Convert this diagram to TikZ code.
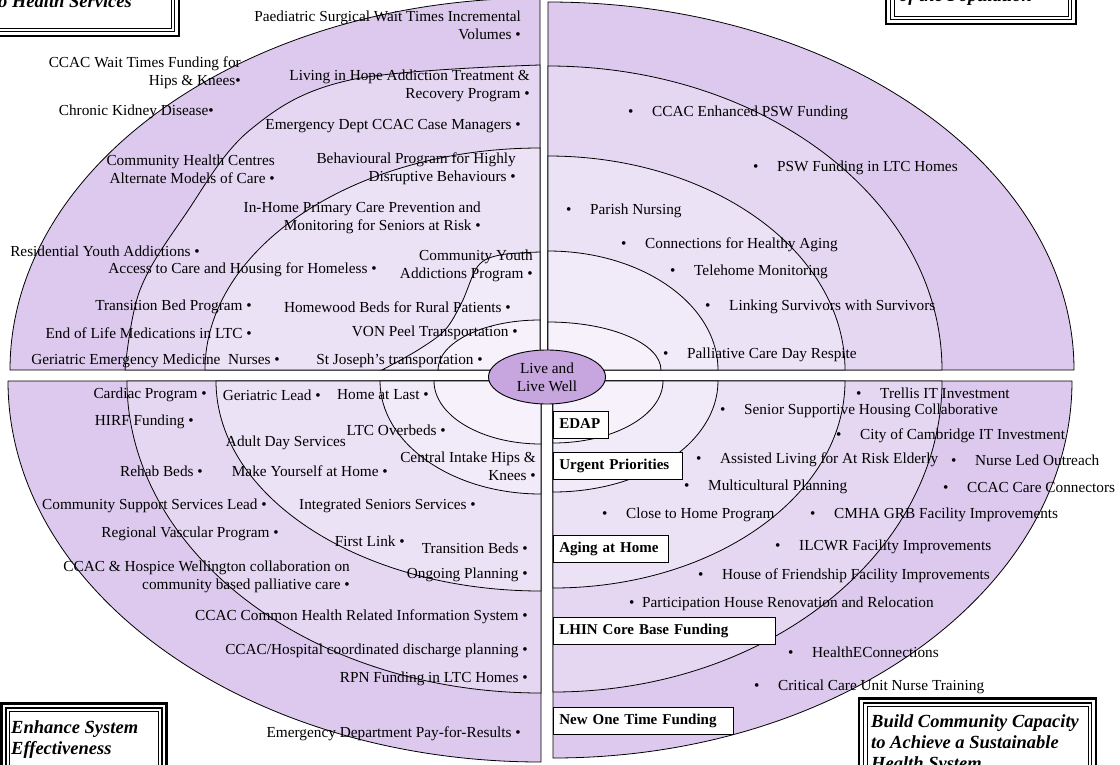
\documentclass[tikz,border=0pt]{standalone}
\usetikzlibrary{shapes.geometric}
\usepackage{fontspec}
\setmainfont{Liberation Serif}
\newcommand\lab{\fontsize{15.3}{18}\selectfont}
\newcommand\tagf{\fontsize{15}{18}\selectfont\bfseries}
\newcommand\cornf{\fontsize{18.5}{21}\selectfont\bfseries\itshape}
\definecolor{ringA}{RGB}{220,201,237}
\definecolor{ringB}{RGB}{229,215,242}
\definecolor{ringC}{RGB}{236,226,246}
\definecolor{ringD}{RGB}{241,234,249}
\definecolor{ringE}{RGB}{246,241,251}
\definecolor{hub}{RGB}{199,165,223}
\tikzset{
  ring/.style={draw=black,line width=0.8pt},
  lbl/.style={font=\lab,inner sep=0pt},
  lblR/.style={lbl,anchor=east,align=right},
  lblL/.style={lbl,anchor=west},
  tagbox/.style={draw=black,fill=white,line width=0.7pt,font=\tagf,anchor=north west,inner xsep=6pt,inner ysep=0pt,minimum height=27pt,text height=11pt,text depth=3pt,align=left},
  corntext/.style={font=\cornf,inner sep=0pt,align=left},
  frameA/.style={draw=black,line width=2.6pt},
  frameB/.style={draw=black,line width=1.5pt},
  frameC/.style={draw=black,line width=0.6pt}
}
\newcommand\bul[1]{\makebox[24pt][l]{\textbullet}#1}
% quarter ring: cx, cy, sx, sy, a, b, k, colour
\newcommand\qring[8]{\filldraw[fill=#8,ring] (#1,#2) -- ({#1+(#3)*(#5)},#2)
  .. controls ({#1+(#3)*(#5)},{#2+(#4)*(#7)*(#6)}) and ({#1+(#3)*(#7)*(#5)},{#2+(#4)*(#6)}) .. (#1,{#2+(#4)*(#6)}) -- cycle;}
\begin{document}
\begin{tikzpicture}[x=1pt,y=-1pt]
\useasboundingbox (0,0) rectangle (1120,764);
\clip (0,0) rectangle (1120,764);
% upper left quadrant
\qring{540}{370}{-1}{-1}{530}{372}{0.5523}{ringA}
\filldraw[fill=ringB,ring] (540,370) -- plot[smooth,tension=0.6] coordinates {(125,370) (140,290) (185,215) (250,130) (350,80) (540,65)} -- cycle;
\qring{540}{370}{-1}{-1}{335}{222}{0.5523}{ringC}
\filldraw[fill=ringD,ring] (540,370) -- plot[smooth,tension=0.55] coordinates {(382,370) (418,350) (445,330) (462,302) (478,266) (500,255) (540,252)} -- cycle;
\qring{540}{370}{-1}{-1}{102}{50}{0.5523}{ringE}
% upper right quadrant
\qring{548}{370}{1}{-1}{526}{368}{0.5523}{ringA}
\qring{548}{370}{1}{-1}{394}{304}{0.5523}{ringB}
\qring{548}{370}{1}{-1}{297}{214}{0.5523}{ringC}
\qring{548}{370}{1}{-1}{170}{119}{0.5523}{ringD}
\qring{548}{370}{1}{-1}{113}{48}{0.5523}{ringE}
% lower left quadrant
\qring{541}{381}{-1}{1}{533}{381}{0.5523}{ringA}
\qring{541}{381}{-1}{1}{414}{312}{0.5523}{ringB}
\qring{541}{381}{-1}{1}{325}{210}{0.5523}{ringC}
\qring{541}{381}{-1}{1}{161}{113}{0.5523}{ringD}
\qring{541}{381}{-1}{1}{107}{63}{0.5523}{ringE}
% lower right quadrant
\qring{553}{381}{1}{1}{519}{377}{0.5523}{ringA}
\qring{553}{381}{1}{1}{389}{311}{0.5523}{ringB}
\qring{553}{381}{1}{1}{292}{207}{0.5523}{ringC}
\qring{553}{381}{1}{1}{165}{111}{0.5523}{ringD}
\qring{553}{381}{1}{1}{110}{62}{0.5523}{ringE}
% hub
\node[draw=black,line width=0.9pt,fill=hub,ellipse,minimum width=117pt,minimum height=54pt,inner sep=0pt,font=\lab,align=center] (hub) at (547,377) {Live and\\Live Well};
% corner boxes
\draw[frameA] (-10,-10) rectangle (179,36);
\draw[frameB] (-10,-10) rectangle (174.5,31.5);
\draw[frameC] (-10,-10) rectangle (171,28);
\node[corntext,anchor=base west] (cTL) at (-2,7) {o Health Services};
\draw[frameA] (886,-10) rectangle (1076,24);
\draw[frameB] (890.5,-10) rectangle (1071.5,19.5);
\draw[frameC] (894,-10) rectangle (1068,16);
\node[corntext,anchor=base west] (cTR) at (899,1) {of the Population};
\draw[frameA] (1.5,703.5) rectangle (166.5,790);
\draw[frameB] (6,708) rectangle (162,790);
\draw[frameC] (9.5,711.5) rectangle (158.5,790);
\node[corntext,anchor=north west] (cBL) at (11,720) {Enhance System\\Effectiveness};
\draw[frameA] (859,698.5) rectangle (1096,790);
\draw[frameB] (863.5,703) rectangle (1091.5,790);
\draw[frameC] (867,706.5) rectangle (1088,790);
\node[corntext,anchor=north west] (cBR) at (871,714) {Build Community Capacity\\to Achieve a Sustainable\\Health System};
% lower-right tag boxes
\node[tagbox,text width=43pt] (t1) at (553,411) {EDAP};
\node[tagbox,text width=117pt] (t2) at (553,452) {Urgent Priorities};
\node[tagbox,text width=103pt] (t3) at (553,535) {Aging at Home};
\node[tagbox,text width=210pt] (t4) at (553,617) {LHIN Core Base Funding};
\node[tagbox,text width=168pt] (t5) at (553,707) {New One Time Funding};
% upper-left labels
\node[lblR] (ul1) at (521,25) {Paediatric Surgical Wait Times Incremental\\Volumes \textbullet};
\node[lblR] (ul2) at (241,73) {CCAC Wait Times Funding for\\Hips \& Knees\textbullet};
\node[lblR] (ul3) at (214,112) {Chronic Kidney Disease\textbullet};
\node[lblR] (ul4) at (530,86) {Living in Hope Addiction Treatment \&\\Recovery Program \textbullet};
\node[lblR] (ul5) at (521,126) {Emergency Dept CCAC Case Managers \textbullet};
\node[lblR] (ul6) at (275,169) {Community Health Centres\\Alternate Models of Care \textbullet};
\node[lblR] (ul7) at (516,169) {Behavioural Program for Highly\\Disruptive Behaviours \textbullet};
\node[lblR] (ul8) at (481,218) {In-Home Primary Care Prevention and\\Monitoring for Seniors at Risk \textbullet};
\node[lblR] (ul9) at (200,251) {Residential Youth Addictions \textbullet};
\node[lblR] (ul10) at (377,270) {Access to Care and Housing for Homeless \textbullet};
\node[lblR] (ul11) at (533,266) {Community Youth\\Addictions Program \textbullet};
\node[lblR] (ul12) at (252,307) {Transition Bed Program \textbullet};
\node[lblR] (ul13) at (511,307) {Homewood Beds for Rural Patients \textbullet};
\node[lblR] (ul14) at (252,333) {End of Life Medications in LTC \textbullet};
\node[lblR] (ul15) at (518,333) {VON Peel Transportation \textbullet};
\node[lblR] (ul16) at (280,361) {Geriatric Emergency Medicine\ \ Nurses \textbullet};
\node[lblR] (ul17) at (483,361) {St Joseph’s transportation \textbullet};
% upper-right labels
\node[lblL] (ur1) at (628,113) {\bul{CCAC Enhanced PSW Funding}};
\node[lblL] (ur2) at (753,168) {\bul{PSW Funding in LTC Homes}};
\node[lblL] (ur3) at (566,211) {\bul{Parish Nursing}};
\node[lblL] (ur4) at (621,245) {\bul{Connections for Healthy Aging}};
\node[lblL] (ur5) at (670,272) {\bul{Telehome Monitoring}};
\node[lblL] (ur6) at (705,307) {\bul{Linking Survivors with Survivors}};
\node[lblL] (ur7) at (663,355) {\bul{Palliative Care Day Respite}};
% lower-left labels
\node[lblR] (ll1) at (207,395) {Cardiac Program \textbullet};
\node[lblR] (ll2) at (321,395) {Geriatric Lead \textbullet};
\node[lblR] (ll3) at (429,395) {Home at Last \textbullet};
\node[lblR] (ll4) at (194,422) {HIRF Funding \textbullet};
\node[lblR] (ll5) at (346,443) {Adult Day Services};
\node[lblR] (ll6) at (446,430) {LTC Overbeds \textbullet};
\node[lblR] (ll7) at (203,471) {Rehab Beds \textbullet};
\node[lblR] (ll8) at (388,471) {Make Yourself at Home \textbullet};
\node[lblR] (ll9) at (536,466) {Central Intake Hips \&\\Knees \textbullet};
\node[lblR] (ll10) at (267,506) {Community Support Services Lead \textbullet};
\node[lblR] (ll11) at (476,506) {Integrated Seniors Services \textbullet};
\node[lblR] (ll12) at (279,534) {Regional Vascular Program \textbullet};
\node[lblR] (ll13) at (405,541) {First Link \textbullet};
\node[lblR] (ll14) at (528,548) {Transition Beds \textbullet};
\node[lblR] (ll15) at (350,577) {CCAC \& Hospice Wellington collaboration on\\community based palliative care \textbullet};
\node[lblR] (ll16) at (528,575) {Ongoing Planning \textbullet};
\node[lblR] (ll17) at (528,617) {CCAC Common Health Related Information System \textbullet};
\node[lblR] (ll18) at (528,651) {CCAC/Hospital coordinated discharge planning \textbullet};
\node[lblR] (ll19) at (528,679) {RPN Funding in LTC Homes \textbullet};
\node[lblR] (ll20) at (521,734) {Emergency Department Pay-for-Results \textbullet};
% lower-right labels
\node[lblL] (lr1) at (856,393) {\bul{Trellis IT Investment}};
\node[lblL] (lr2) at (720,411) {\bul{Senior Supportive Housing Collaborative}};
\node[lblL] (lr3) at (836,436) {\bul{City of Cambridge IT Investment}};
\node[lblL] (lr4) at (696,460) {\bul{Assisted Living for At Risk Elderly}};
\node[lblL] (lr5) at (951,460) {\bul{Nurse Led Outreach}};
\node[lblL] (lr6) at (684,487) {\bul{Multicultural Planning}};
\node[lblL] (lr7) at (943,488) {\bul{CCAC Care Connectors}};
\node[lblL] (lr8) at (602,515) {\bul{Close to Home Program}};
\node[lblL] (lr9) at (810,515) {\bul{CMHA GRB Facility Improvements}};
\node[lblL] (lr10) at (775,547) {\bul{ILCWR Facility Improvements}};
\node[lblL] (lr11) at (698,576) {\bul{House of Friendship Facility Improvements}};
\node[lblL] (lr12) at (629,604) {\makebox[13pt][l]{\textbullet}Participation House Renovation and Relocation};
\node[lblL] (lr13) at (788,652) {\bul{HealthEConnections}};
\node[lblL] (lr14) at (754,687) {\bul{Critical Care Unit Nurse Training}};
\end{tikzpicture}
\end{document}
